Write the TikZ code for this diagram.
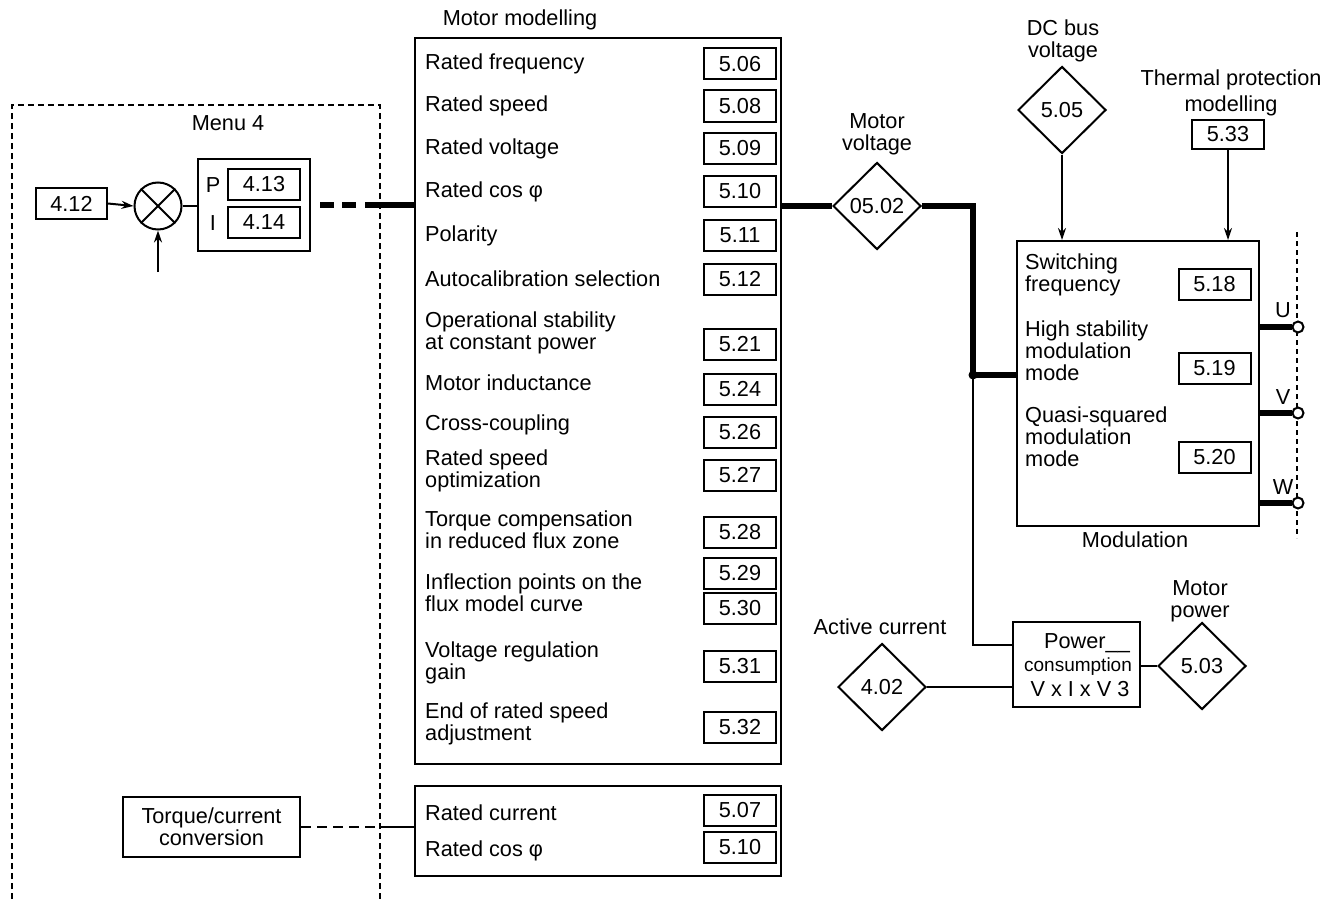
\documentclass[tikz,border=0pt]{standalone}
\usepackage{fontspec}
\setmainfont{Liberation Sans}
\usetikzlibrary{shapes.geometric,arrows.meta}
\newcommand\tf{\fontsize{21.7}{22}\selectfont}
\newcommand\smallfnt{\fontsize{19}{20}\selectfont}
\begin{document}
\begin{tikzpicture}[x=1pt,y=-1pt,
  every node/.style={font=\tf, inner sep=0pt},
  valbox/.style={draw, line width=2pt, minimum width=72pt, minimum height=31pt},
  lbl/.style={anchor=west, align=left},
  dia/.style={diamond, draw, line width=2pt, minimum width=88pt, minimum height=87pt, aspect=1},
  frame/.style={draw, line width=2pt},
  conn/.style={line width=2pt},
  thickline/.style={line width=5.5pt},
  arr/.style={conn, -{Stealth[length=12pt,width=8pt]}},
  dotline/.style={line width=2pt, dash pattern=on 6pt off 4pt}
]
\useasboundingbox (0,0) rectangle (1326,899);

% ---------------- Menu 4 ----------------
\draw[dotline] (12,899) -- (12,105) -- (380,105) -- (380,899);
\node (menu4) at (228,123) {Menu 4};
\node[valbox, minimum width=71pt] (b412) at (71.5,203.5) {4.12};
\node[circle, draw, line width=2pt, minimum size=47pt] (sum) at (158,206) {};
\draw[conn] (sum.north west) -- (sum.south east);
\draw[conn] (sum.north east) -- (sum.south west);
\node[frame, minimum width=112pt, minimum height=92pt] (pi) at (254,205) {};
\node (lp) at (213,185) {P};
\node (li) at (213,223) {I};
\node[valbox] (b413) at (264,184.5) {4.13};
\node[valbox] (b414) at (264,222.5) {4.14};
\draw[arr] (b412.east) -- (sum.west);
\coordinate (sumin) at (158,272);
\draw[arr] (sumin) -- (sum.south);
\draw[conn] (sum.east) -- (pi.west |- sum.east);

% ---------------- Motor modelling ----------------
\node (mmtitle) at (520,20) {Motor modelling};
\node[frame, minimum width=366pt, minimum height=726pt] (motor) at (598,401) {};

\node[lbl] (l506) at (425,64) {Rated frequency};
\node[valbox] (v506) at (740,64) {5.06};
\node[lbl] (l508) at (425,106) {Rated speed};
\node[valbox] (v508) at (740,106) {5.08};
\node[lbl] (l509) at (425,149) {Rated voltage};
\node[valbox] (v509) at (740,148) {5.09};
\node[lbl] (l510) at (425,192) {Rated cos φ};
\node[valbox] (v510) at (740,191) {5.10};
\node[lbl] (l511) at (425,236) {Polarity};
\node[valbox] (v511) at (740,235) {5.11};
\node[lbl] (l512) at (425,279) {Autocalibration selection};
\node[valbox] (v512) at (740,279) {5.12};
\node[lbl] (l521) at (425,333) {Operational stability\\at constant power};
\node[valbox] (v521) at (740,344) {5.21};
\node[lbl] (l524) at (425,383) {Motor inductance};
\node[valbox] (v524) at (740,389) {5.24};
\node[lbl] (l526) at (425,425) {Cross-coupling};
\node[valbox] (v526) at (740,432) {5.26};
\node[lbl] (l527) at (425,471) {Rated speed\\optimization};
\node[valbox] (v527) at (740,475) {5.27};
\node[lbl] (l528) at (425,530) {Torque compensation\\in reduced flux zone};
\node[valbox] (v528) at (740,532) {5.28};
\node[lbl] (l529) at (425,593) {Inflection points on the\\flux model curve};
\node[valbox] (v529) at (740,573) {5.29};
\node[valbox] (v530) at (740,608) {5.30};
\node[lbl] (l531) at (425,663) {Voltage regulation\\gain};
\node[valbox] (v531) at (740,666) {5.31};
\node[lbl] (l532) at (425,724) {End of rated speed\\adjustment};
\node[valbox] (v532) at (740,727) {5.32};

% connection from PI to motor modelling
\coordinate (dA) at (320,205);
\coordinate (dB) at (358,205);
\coordinate (dC) at (365,205);
\draw[thickline, dash pattern=on 14pt off 8pt] (dA) -- (dB);
\draw[thickline] (dC) -- (motor.west |- dC);

% ---------------- Lower box ----------------
\node[frame, minimum width=366pt, minimum height=90pt] (low) at (598,831) {};
\node[lbl] (l507) at (425,813) {Rated current};
\node[valbox] (v507) at (740,810) {5.07};
\node[lbl] (l510b) at (425,851) {Rated cos φ};
\node[valbox] (v510b) at (740,847) {5.10};

\node[frame, minimum width=177pt, minimum height=60pt, align=center] (tq) at (211.5,827) {Torque/current\\conversion};
\coordinate (tqm) at (380,827);
\draw[conn, dash pattern=on 10pt off 6pt] (tq.east) -- (tqm);
\draw[conn] (tqm) -- (low.west |- tqm);

% ---------------- Motor voltage ----------------
\node[align=center] (mvlbl) at (877,134) {Motor\\voltage};
\node[dia] (d0502) at (877,206) {05.02};
\draw[thickline] (motor.east |- d0502) -- (d0502.west);

% ---------------- Modulation ----------------
\node[frame, minimum width=242pt, minimum height=285pt] (mod) at (1138,383.5) {};
\node (modlbl) at (1135,540) {Modulation};
\node[lbl] (lsw) at (1025,275) {Switching\\frequency};
\node[valbox] (v518) at (1214.5,284.5) {5.18};
\node[lbl, align=left] (lhs) at (1025,351) {High stability\\modulation\\mode};
\node[valbox] (v519) at (1214.5,368.5) {5.19};
\node[lbl] (lqs) at (1025,437) {Quasi-squared\\modulation\\mode};
\node[valbox] (v520) at (1214.5,457.5) {5.20};

\coordinate (junc) at (973,375);
\draw[thickline] (d0502.east) -- (973,206) -- (junc) -- (mod.west |- junc);
\fill (junc) circle (4.5pt);

% DC bus
\node[align=center] (dclbl) at (1063,41) {DC bus\\voltage};
\node[dia] (d505) at (1062,110) {5.05};
\draw[arr] (d505.south) -- (d505.south |- mod.north);

% Thermal
\node[align=center, font=\fontsize{21.7}{26}\selectfont] (thlbl) at (1231,93) {Thermal protection\\modelling};
\node[valbox, minimum height=29pt] (b533) at (1228,134.5) {5.33};
\draw[arr] (b533.south) -- (b533.south |- mod.north);

% U V W outputs
\draw[line width=1.8pt, dash pattern=on 5pt off 4pt] (1297,232) -- (1297,538);
\node[circle, draw, line width=2pt, fill=white, minimum size=11pt] (oU) at (1298,327) {};
\node[circle, draw, line width=2pt, fill=white, minimum size=11pt] (oV) at (1298,413) {};
\node[circle, draw, line width=2pt, fill=white, minimum size=11pt] (oW) at (1298,503) {};
\draw[thickline] (mod.east |- oU) -- (oU.west);
\draw[thickline] (mod.east |- oV) -- (oV.west);
\draw[thickline] (mod.east |- oW) -- (oW.west);
\node (lU) at (1283,310) {U};
\node (lV) at (1283,397) {V};
\node (lW) at (1283,487) {W};

% ---------------- Power consumption ----------------
\node[frame, minimum width=127pt, minimum height=85pt] (pow) at (1076.5,664.5) {};
\node (pw1) at (1087,643) {Power\_\_};
\node[font=\smallfnt] (pw2) at (1078,667) {consumption};
\node (pw3) at (1080,689) {V x I x V 3};

\coordinate (pj) at (973,645);
\draw[conn] (junc) -- (pj) -- (pow.west |- pj);

\node (aclbl) at (880,627) {Active current};
\node[dia] (d402) at (882,687) {4.02};
\draw[conn] (d402.east) -- (pow.west |- d402.east);

\node[align=center] (mplbl) at (1200,601) {Motor\\power};
\node[dia] (d503) at (1202,666) {5.03};
\draw[conn] (pow.east |- d503.west) -- (d503.west);

\end{tikzpicture}
\end{document}
